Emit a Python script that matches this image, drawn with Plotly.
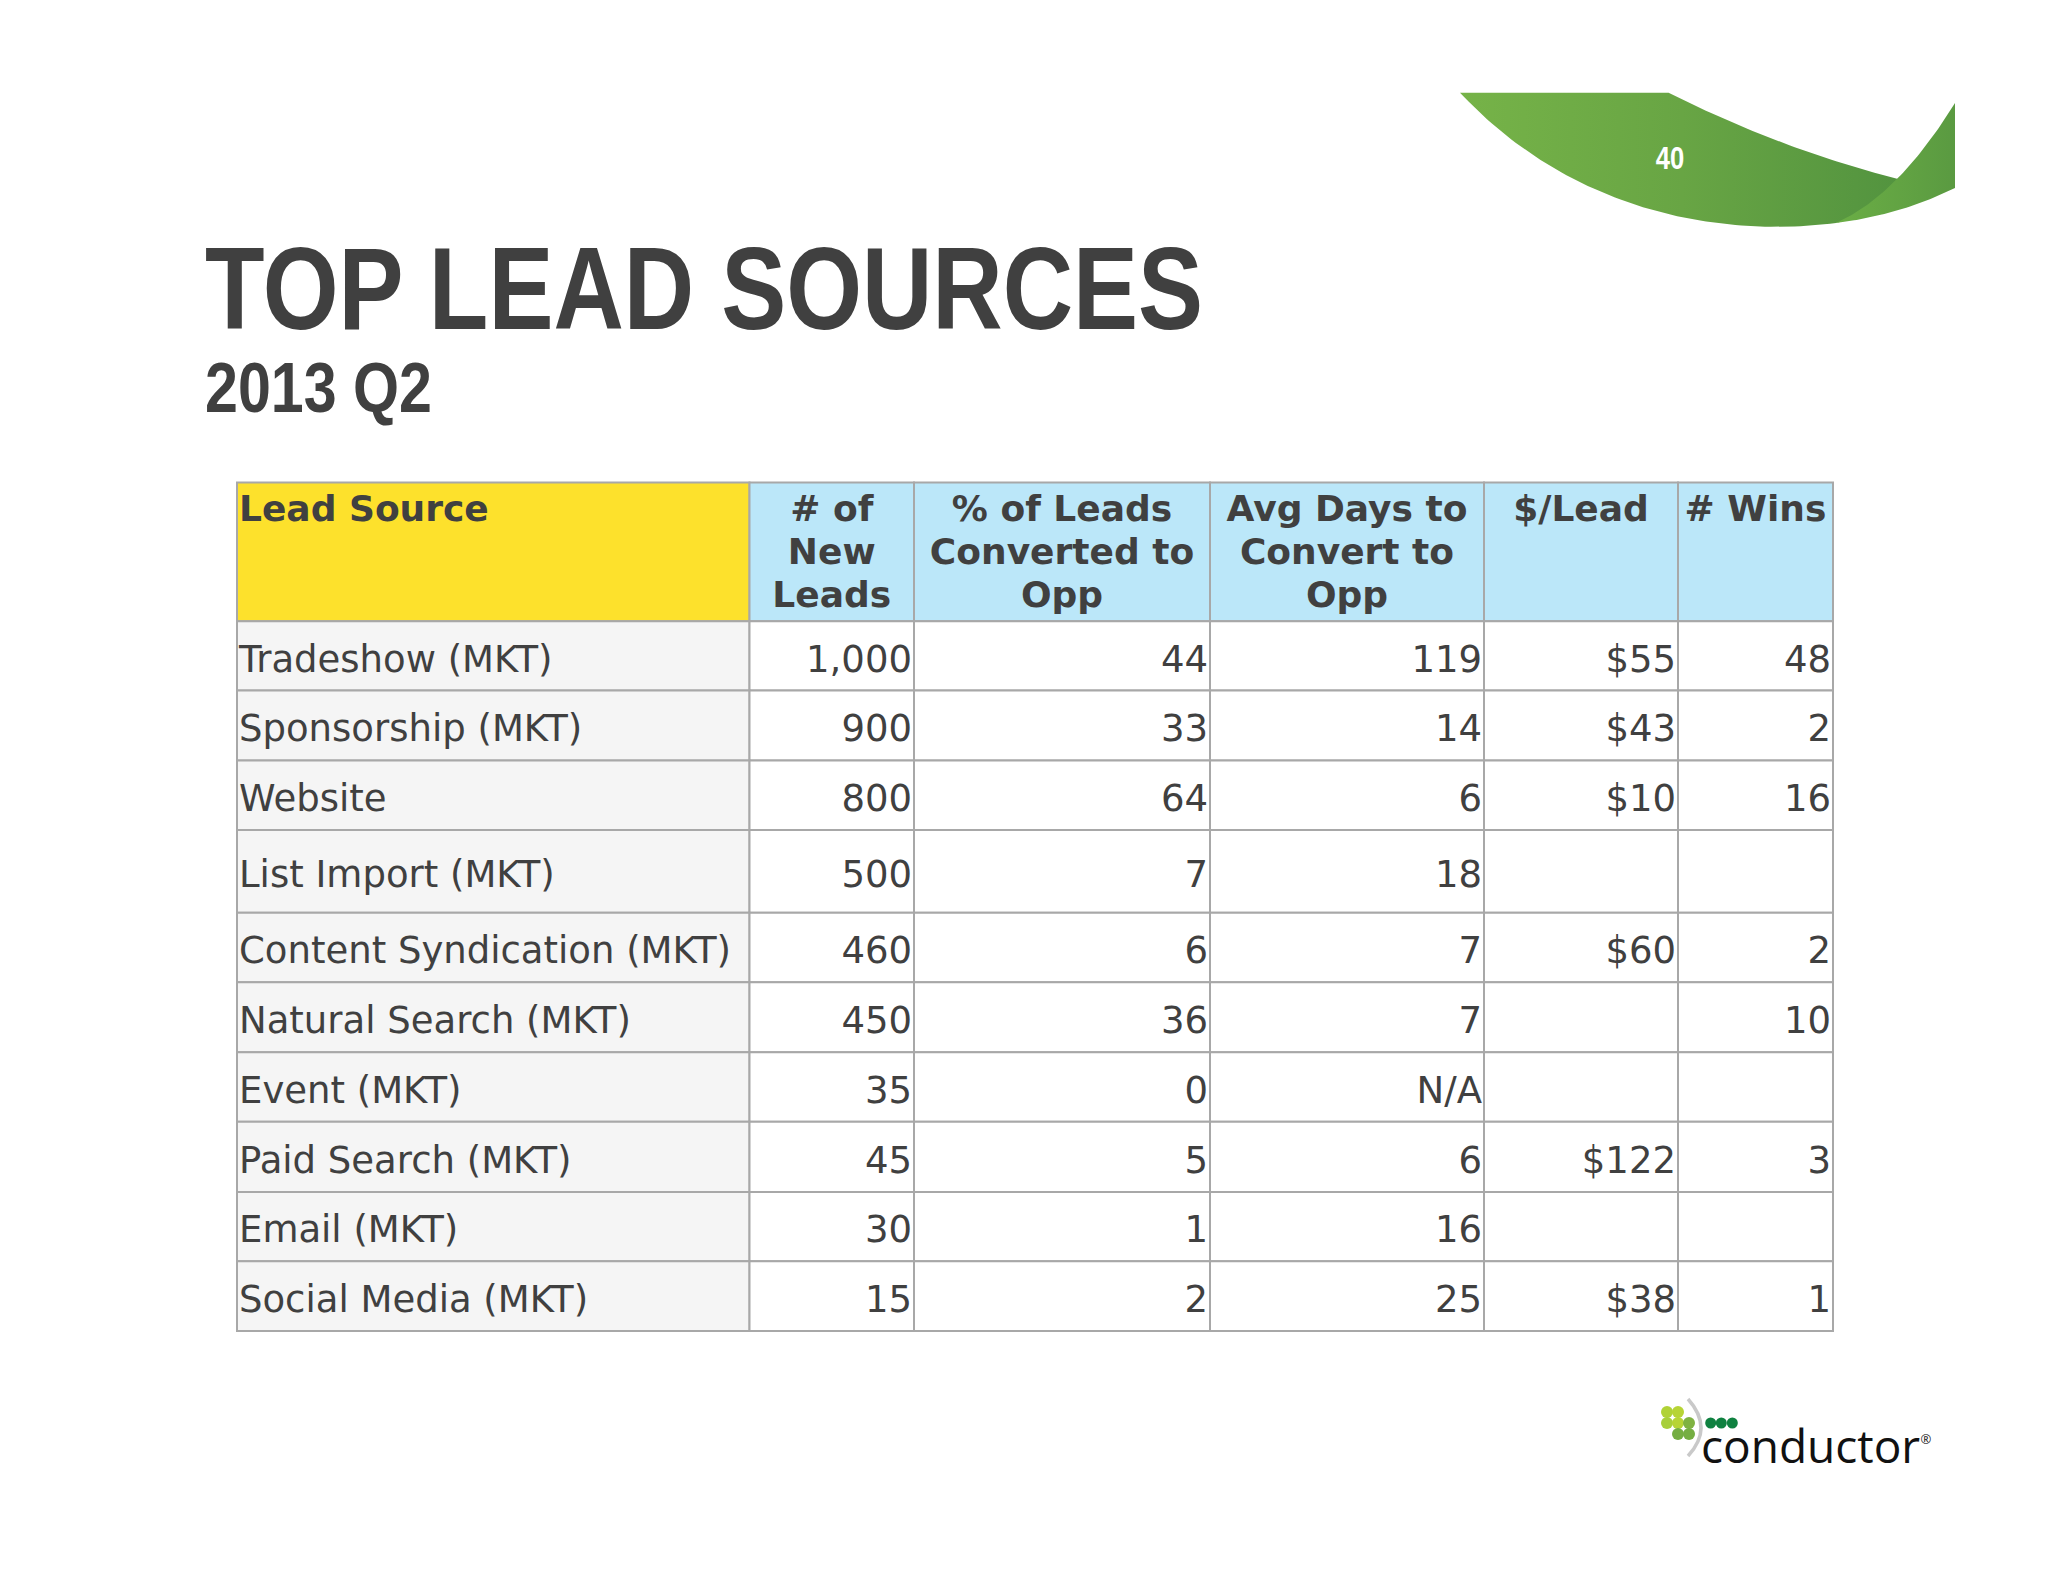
import numpy as np
import plotly.graph_objects as go

# ---------- data ----------
title = "TOP LEAD SOURCES"
subtitle = "2013 Q2"
page_number = "40"
header_source = "Lead Source"
headers = [["# of", "New", "Leads"], ["% of Leads", "Converted to", "Opp"],
           ["Avg Days to", "Convert to", "Opp"], ["$/Lead"], ["# Wins"]]
sources = ["Tradeshow (MKT)", "Sponsorship (MKT)", "Website", "List Import (MKT)",
           "Content Syndication (MKT)", "Natural Search (MKT)", "Event (MKT)",
           "Paid Search (MKT)", "Email (MKT)", "Social Media (MKT)"]
new_leads = ["1,000", "900", "800", "500", "460", "450", "35", "45", "30", "15"]
pct_converted = ["44", "33", "64", "7", "6", "36", "0", "5", "1", "2"]
avg_days = ["119", "14", "6", "18", "7", "7", "N/A", "6", "16", "25"]
cost_per_lead = ["$55", "$43", "$10", "", "$60", "", "", "$122", "", "$38"]
wins = ["48", "2", "16", "", "2", "10", "", "3", "", "1"]
value_columns = [new_leads, pct_converted, avg_days, cost_per_lead, wins]

# ---------- layout (page pixels) ----------
W, H = 2048, 1582
PAGE_MARGIN = 8  # the browser's default body margin
col_edges = [237, 749.5, 914, 1210, 1484, 1678, 1833]
row_edges = [482.5, 621.3, 690.5, 760.5, 830, 912.7, 982.3, 1052.3, 1121.7, 1192, 1261.3, 1331]
INK = "#404040"
GRID = "#a8a8a8"
YELLOW = "#fde12c"
BLUE = "#bbe7f9"
STUB = "#f5f5f5"
BODY_FONT = "DejaVu Sans"
TITLE_FONT = "Liberation Sans"
BODY_SIZE = 37
BODY_DROP = 6.5
HEAD_SIZE = 36
HEAD_LINE = 43.2
HEAD_FIRST = 511.5

fig = go.Figure()
shapes = []

def rect(x0, x1, y0, y1, fill):
    shapes.append(dict(type="rect", xref="x", yref="y", x0=x0, x1=x1, y0=y0, y1=y1,
                       fillcolor=fill, line=dict(color=GRID, width=2), layer="below"))

rect(col_edges[0], col_edges[1], row_edges[0], row_edges[1], YELLOW)
for c in range(1, 6):
    rect(col_edges[c], col_edges[c + 1], row_edges[0], row_edges[1], BLUE)
for r in range(10):
    rect(col_edges[0], col_edges[1], row_edges[r + 1], row_edges[r + 2], STUB)
    for c in range(1, 6):
        rect(col_edges[c], col_edges[c + 1], row_edges[r + 1], row_edges[r + 2], "#ffffff")

row_mid = [(row_edges[i + 1] + row_edges[i + 2]) / 2 + BODY_DROP for i in range(10)]

def text_trace(x, y, text, pos, size, color=INK, family=BODY_FONT, bold=False):
    fig.add_trace(go.Scatter(
        x=x, y=y, text=text, mode="text", textposition=pos, cliponaxis=False,
        textfont=dict(family=family, size=size, color=color,
                      weight=700 if bold else 400),
        hoverinfo="skip", showlegend=False))

# ribbon graphic (decoration)
def qbez(p0, c, p1, n=50):
    t = np.linspace(0, 1, n)
    return [(1-t)**2*p0[i] + 2*(1-t)*t*c[i] + t**2*p1[i] for i in (0, 1)]

def cbez(p0, c0, c1, p1, n=70):
    t = np.linspace(0, 1, n)
    return [(1-t)**3*p0[i] + 3*(1-t)**2*t*c0[i] + 3*(1-t)*t**2*c1[i] + t**3*p1[i] for i in (0, 1)]

up = qbez((1668.6, 92.7), (1782.7, 150), (1898, 179))
low = cbez((1836, 223), (1700, 240), (1560, 200), (1460, 92.7))
fig.add_trace(go.Scatter(
    x=np.concatenate([up[0], [1905], low[0]]), y=np.concatenate([up[1], [205], low[1]]),
    mode="lines", fill="toself", line=dict(width=0), hoverinfo="skip", showlegend=False,
    fillgradient=dict(type="horizontal", colorscale=[[0, "#76b348"], [0.5, "#68a544"], [1, "#52933f"]])))
r1 = qbez((1836, 223), (1898.5, 195), (1955, 103))
r2 = qbez((1955, 188), (1900, 215), (1836, 223))
fig.add_trace(go.Scatter(
    x=np.concatenate([r1[0], r2[0]]), y=np.concatenate([r1[1], r2[1]]),
    mode="lines", fill="toself", line=dict(width=0), hoverinfo="skip", showlegend=False,
    fillgradient=dict(type="horizontal", colorscale=[[0, "#6bae45"], [1, "#5a9a41"]])))
text_trace([1670], [161.5], [page_number], "middle center", 32, "#ffffff", TITLE_FONT, True)

# titles
text_trace([205], [299.5], [title], "middle right", 117, INK, TITLE_FONT, True)
text_trace([205], [395], [subtitle], "middle right", 70, INK, TITLE_FONT, True)

# table header
text_trace([col_edges[0] + 2], [HEAD_FIRST], [header_source], "middle right", HEAD_SIZE, INK, BODY_FONT, True)
for c, lines in enumerate(headers):
    cx = (col_edges[c + 1] + col_edges[c + 2]) / 2
    text_trace([cx] * len(lines), [HEAD_FIRST + i * HEAD_LINE for i in range(len(lines))],
               lines, "middle center", HEAD_SIZE, INK, BODY_FONT, True)

# table body
text_trace([col_edges[0] + 2] * 10, row_mid, sources, "middle right", BODY_SIZE)
for c, col in enumerate(value_columns):
    text_trace([col_edges[c + 2] - 2] * 10, row_mid, col, "middle left", BODY_SIZE)

# logo (decoration)
fig.add_trace(go.Scatter(
    x=[1667, 1678, 1667, 1678, 1689, 1678, 1689], y=[1412, 1412, 1423, 1423, 1423, 1434, 1434],
    mode="markers", hoverinfo="skip", showlegend=False,
    marker=dict(size=12, symbol="circle",
                color=["#b0d236", "#b7d435", "#a8cf3a", "#b7d435", "#7fb241", "#75ae42", "#75ae42"],
                line=dict(width=0))))
fig.add_trace(go.Scatter(
    x=[1710.7, 1721.3, 1732.3], y=[1423, 1423, 1423], mode="markers", hoverinfo="skip",
    showlegend=False, marker=dict(size=11, color="#0f8140", line=dict(width=0))))
shapes.append(dict(type="path", xref="x", yref="y", layer="above",
                   path="M 1688 1399 Q 1714 1428 1688 1456",
                   line=dict(color="#c9c9c9", width=3.5)))
text_trace([1701], [1451], ["conductor"], "middle right", 46, "#111111", "Open Sans")
text_trace([1926], [1441], ["®"], "middle center", 13, "#222222", "Open Sans")

# the page adds its own 8px margin, so the plot covers the window's remaining pixels
fig.update_layout(
    width=W - PAGE_MARGIN, height=H - PAGE_MARGIN, margin=dict(l=0, r=0, t=0, b=0),
    paper_bgcolor="#ffffff", plot_bgcolor="#ffffff", showlegend=False, shapes=shapes,
    xaxis=dict(range=[PAGE_MARGIN, W], visible=False, fixedrange=True),
    yaxis=dict(range=[H, PAGE_MARGIN], visible=False, fixedrange=True),
)

# the title face is condensed; no narrow family is installed, so squeeze the real text
condense = """
var squeeze = {"%s": 0.833, "%s": 0.845, "%s": 0.8};
document.querySelectorAll('.textpoint text').forEach(function (t) {
  var s = squeeze[t.textContent];
  if (s) {
    var x = parseFloat(t.getAttribute('x'));
    t.setAttribute('transform', 'translate(' + x + ',0) scale(' + s + ',1) translate(' + (-x) + ',0)');
  }
});
""" % (title, subtitle, page_number)
fig.write_html("out.html", config=dict(displayModeBar=False), post_script=condense)
